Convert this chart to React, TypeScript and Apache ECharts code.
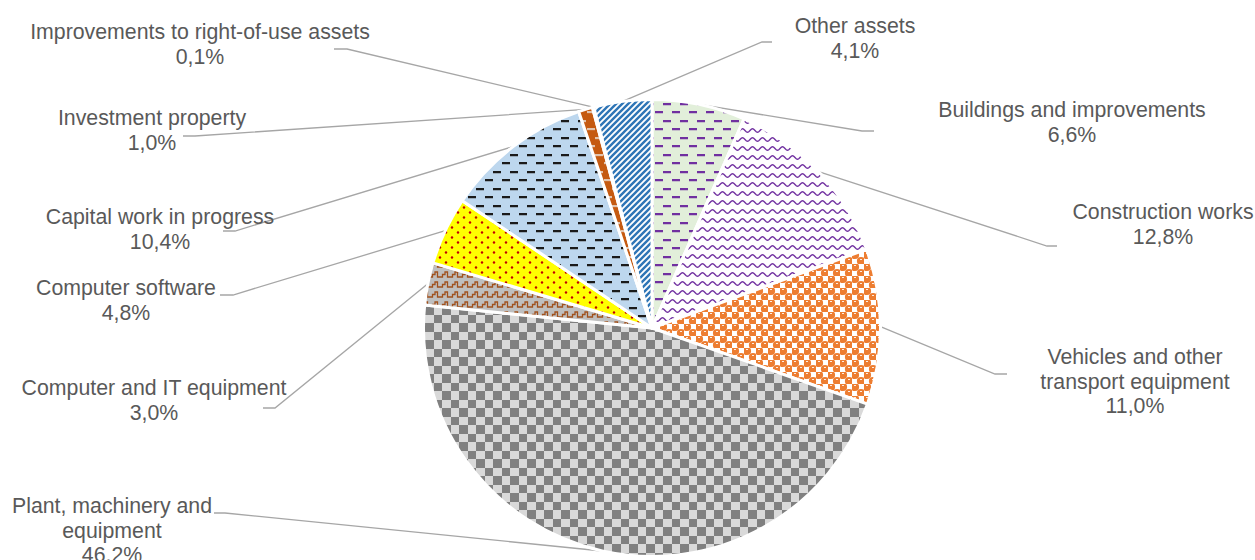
import React, { useEffect, useRef } from 'react';
import * as echarts from 'echarts';

// ---- data ----
const categories = [
  'Buildings and improvements',
  'Construction works',
  'Vehicles and other\ntransport equipment',
  'Plant, machinery and\nequipment',
  'Computer and IT equipment',
  'Computer software',
  'Capital work in progress',
  'Investment property',
  'Improvements to right-of-use assets',
  'Other assets',
];
const shares = [6.6, 12.8, 11.0, 46.2, 3.0, 4.8, 10.4, 1.0, 0.1, 4.1];

// ---- label placement (text block centre-x / top-y, leader elbow and tip) ----
const labelPlacement = [
  { x: 1072, y: 98, ex: 862, ey: 131, tx: 874 },
  { x: 1163, y: 200, ex: 1047, ey: 246, tx: 1057 },
  { x: 1135, y: 345, ex: 995, ey: 374, tx: 1007 },
  { x: 112, y: 494, ex: 225, ey: 513, tx: 214 },
  { x: 154, y: 376, ex: 275, ey: 408, tx: 263 },
  { x: 126, y: 276, ex: 233, ey: 295, tx: 220 },
  { x: 160, y: 205, ex: 235, ey: 231, tx: 223 },
  { x: 152, y: 106, ex: 195, ey: 136, tx: 183 },
  { x: 200, y: 20, ex: 347, ey: 49, tx: 334 },
  { x: 855, y: 14, ex: 762, ey: 42, tx: 772 },
];

const fmtPct = (v: number) => v.toFixed(1).replace('.', ',') + '%';

type Draw = (ctx: CanvasRenderingContext2D, w: number, h: number) => void;
function tile(w: number, h: number, bg: string, draw: Draw) {
  const c = document.createElement('canvas');
  c.width = w;
  c.height = h;
  const ctx = c.getContext('2d')!;
  ctx.fillStyle = bg;
  ctx.fillRect(0, 0, w, h);
  draw(ctx, w, h);
  return { image: c.toDataURL(), repeat: 'repeat', imageWidth: w, imageHeight: h };
}

function dashed(bg: string, fg: string, shade: string) {
  return tile(17, 17, bg, (ctx) => {
    ctx.fillStyle = fg;
    ctx.fillRect(0, 1, 8, 2);
    ctx.fillRect(9, 9, 8, 2);
    ctx.fillStyle = shade;
    ctx.fillRect(0, 3, 8, 1);
    ctx.fillRect(9, 11, 8, 1);
  });
}

function buildFills() {
  const buildings = dashed('#E2EFDA', '#7030A0', 'rgba(112,48,160,0.25)');
  const construction = tile(10, 9, '#FFFFFF', (ctx) => {
    ctx.strokeStyle = '#7030A0';
    ctx.lineWidth = 1.4;
    ctx.beginPath();
    for (let x = -1; x <= 11; x += 0.5) {
      const y = 4.5 - 1.7 * Math.sin((2 * Math.PI * x) / 10);
      if (x === -1) ctx.moveTo(x, y);
      else ctx.lineTo(x, y);
    }
    ctx.stroke();
  });
  const vehicles = tile(12, 12, '#FFFFFF', (ctx) => {
    ctx.fillStyle = '#ED7D31';
    const centres = [
      [3, 3],
      [9, 9],
      [-3, 15],
      [15, -3],
      [15, 15],
      [-3, -3],
    ];
    centres.forEach(([cx, cy]) => {
      ctx.beginPath();
      ctx.arc(cx, cy, 4.1, 0, Math.PI * 2);
      ctx.fill();
    });
    ctx.fillStyle = 'rgba(255,255,255,0.85)';
    ctx.fillRect(2, 1, 2, 1);
    ctx.fillRect(8, 7, 2, 1);
  });
  const plant = tile(17, 17, '#D9D9D9', (ctx) => {
    ctx.fillStyle = '#808080';
    ctx.fillRect(0, 0, 9, 9);
    ctx.fillRect(9, 9, 8, 8);
  });
  const computerIT = tile(10, 10, '#BFBFBF', (ctx) => {
    ctx.strokeStyle = '#A0501C';
    ctx.lineWidth = 1.3;
    ctx.beginPath();
    ctx.moveTo(0, 7);
    ctx.lineTo(2.5, 7);
    ctx.lineTo(2.5, 4.5);
    ctx.lineTo(5, 4.5);
    ctx.lineTo(5, 2);
    ctx.lineTo(7.5, 2);
    ctx.lineTo(7.5, 7);
    ctx.lineTo(10, 7);
    ctx.stroke();
  });
  const software = tile(12, 10, '#FFFF00', (ctx) => {
    ctx.fillStyle = '#C00000';
    [
      [2, 2.5],
      [8, 7.5],
    ].forEach(([cx, cy]) => {
      ctx.beginPath();
      ctx.arc(cx, cy, 1.2, 0, Math.PI * 2);
      ctx.fill();
    });
  });
  const capital = dashed('#BDD7EE', '#1A1A1A', 'rgba(80,80,80,0.35)');
  const investment = dashed('#C55A11', '#E2C4AE', 'rgba(255,255,255,0.1)');
  const improvements = '#A5A5A5';
  const other = tile(6, 6, '#FFFFFF', (ctx) => {
    ctx.strokeStyle = '#2E75B6';
    ctx.lineWidth = 2.4;
    ctx.beginPath();
    ctx.moveTo(-3, 3);
    ctx.lineTo(3, -3);
    ctx.moveTo(0, 6);
    ctx.lineTo(6, 0);
    ctx.moveTo(3, 9);
    ctx.lineTo(9, 3);
    ctx.stroke();
  });
  return [buildings, construction, vehicles, plant, computerIT, software, capital, investment, improvements, other];
}

export default function App() {
  const ref = useRef<HTMLDivElement>(null);
  useEffect(() => {
    if (!ref.current) return;
    const chart = echarts.init(ref.current, null, { renderer: 'svg' });
    const fills = buildFills();
    chart.setOption({
      animation: false,
      backgroundColor: '#FFFFFF',
      series: [
        {
          type: 'pie',
          center: [652, 328],
          radius: 228.5,
          startAngle: 90,
          clockwise: true,
          avoidLabelOverlap: false,
          emphasis: { disabled: true },
          itemStyle: { borderColor: '#FFFFFF', borderWidth: 3 },
          data: categories.map((name, i) => ({
            name,
            value: shares[i],
            itemStyle: { color: fills[i] },
          })),
          label: {
            show: true,
            position: 'outside',
            formatter: (p: any) => `${p.name}\n${fmtPct(p.value)}`,
            color: '#595959',
            fontFamily: '"Liberation Sans", Arial, sans-serif',
            fontSize: 21.3,
            lineHeight: 24.5,
            align: 'center',
          },
          labelLine: {
            show: true,
            length: 10,
            length2: 10,
            smooth: false,
            lineStyle: { color: '#A6A6A6', width: 1.3 },
          },
          labelLayout: (params: any) => {
            const pl = labelPlacement[params.dataIndex];
            const p0 = params.labelLinePoints ? params.labelLinePoints[0] : [pl.ex, pl.ey];
            return {
              x: pl.x,
              y: pl.y,
              align: 'center',
              verticalAlign: 'top',
              labelLinePoints: [p0, [pl.ex, pl.ey], [pl.tx, pl.ey]],
            };
          },
        },
      ],
    });
    return () => chart.dispose();
  }, []);
  return (
    <div
      ref={ref}
      style={{ position: 'fixed', left: 0, top: 0, width: 1255, height: 560, background: '#fff' }}
    />
  );
}
